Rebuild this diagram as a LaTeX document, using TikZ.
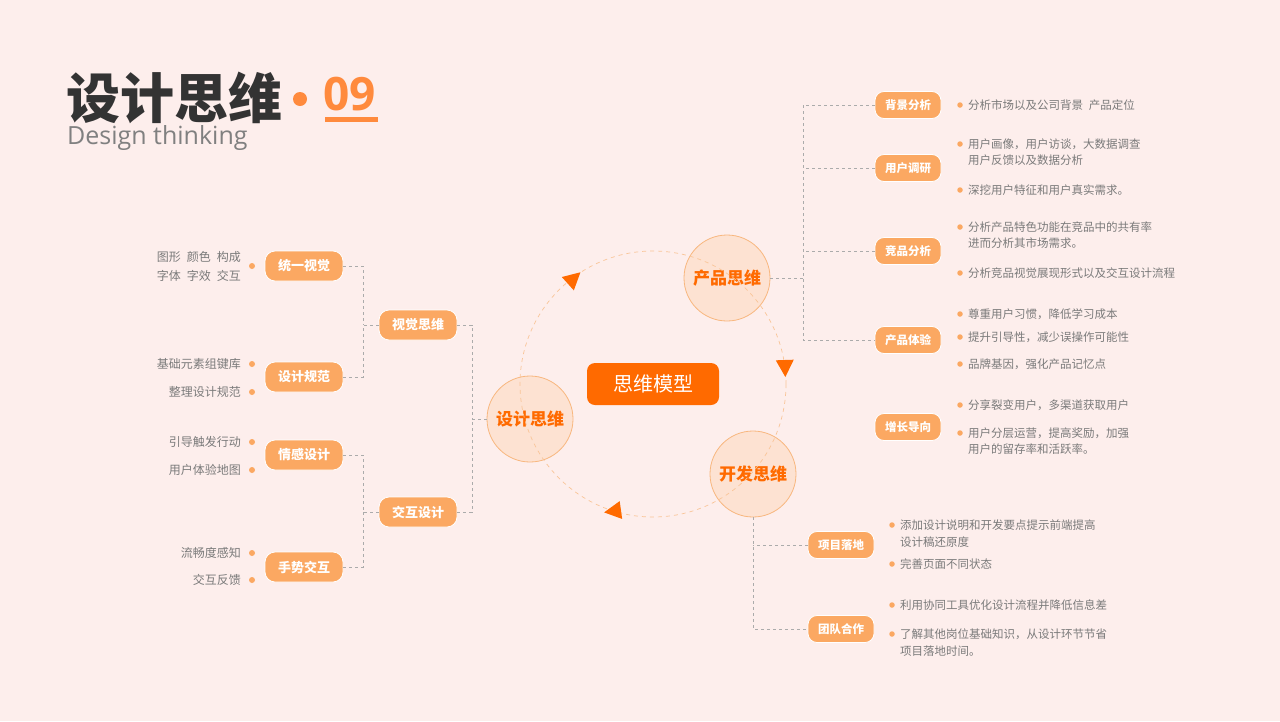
\documentclass[tikz,border=0pt]{standalone}
\usepackage{fontspec}
\setmainfont{Noto Sans CJK SC}
\newfontfamily\latfont{Open Sans}
\definecolor{bg}{HTML}{FDEEEC}
\definecolor{org}{HTML}{FF6A00}
\definecolor{boxo}{HTML}{FBA862}
\definecolor{circf}{HTML}{FDE2D2}
\definecolor{circd}{HTML}{F8B77F}
\definecolor{txt}{HTML}{7A7A7A}
\definecolor{dsh}{HTML}{ABABAB}
\definecolor{tnum}{HTML}{FF8A3D}
\begin{document}
\begin{tikzpicture}[x=1pt,y=-1pt,
  tbox/.style={draw=white,line width=0.8pt,fill=boxo,rounded corners=10pt,minimum width=#1,minimum height=30pt,inner sep=0pt,text=white,font=\fontsize{13}{13}\selectfont\bfseries},
  tbox/.default=78pt,
  sbox/.style={tbox=66pt,minimum height=27pt,rounded corners=9pt,font=\fontsize{11.5}{12}\selectfont\bfseries},
  bub/.style={circle,draw=circd,fill=circf,line width=0.8pt,minimum size=#1,inner sep=0pt,text=org,font=\fontsize{17}{17}\selectfont\bfseries},
  con/.style={draw=dsh,dashed,line width=0.8pt,dash pattern=on 3pt off 3pt},
  lt/.style={text=txt,font=\fontsize{12}{15}\selectfont,inner sep=0pt},
  dot/.style={circle,fill=boxo,inner sep=0pt,minimum size=6pt}]
\fill[bg] (0,0) rectangle (1280,721);
\useasboundingbox (0,0) rectangle (1280,721);
% title
\node[anchor=west,inner sep=0pt,text=black!80,font=\fontsize{54}{54}\selectfont\bfseries] (title) at (66,98) {设计思维};
\fill[tnum] (300,99) circle (7);
\node[anchor=west,inner sep=0pt,text=tnum,font=\latfont\fontsize{46}{46}\selectfont\bfseries] (num) at (323,94) {09};
\fill[tnum] (325,116.5) rectangle (378,121.5);
\node[anchor=west,inner sep=0pt,text=black!50,font=\latfont\fontsize{25}{25}\selectfont] (sub) at (67,138) {Design thinking};
% cycle
\node[bub=86pt] (cp) at (727,278) {产品思维};
\node[bub=86pt] (cd) at (530,419) {设计思维};
\node[bub=86pt] (ck) at (753,474) {开发思维};
\draw[circd!80,dashed,dash pattern=on 4pt off 4pt,line width=0.7pt] (653,384) circle (133);
\node[fill=org,rounded corners=8pt,minimum width=132pt,minimum height=42pt,text=white,font=\fontsize{20}{20}\selectfont] (model) at (653,384) {思维模型};
\foreach \px/\py/\a in {573/279/42,785/367/-88,614/511/188}{
  \begin{scope}[shift={(\px,\py)},rotate=\a]
  \fill[org] (10,0) -- (-7,9) -- (-7,-9) -- cycle;
  \end{scope}}
% left tree
\node[tbox] (vs) at (418,325) {视觉思维};
\node[tbox] (jh) at (418,512) {交互设计};
\node[tbox] (ty) at (304,266) {统一视觉};
\node[tbox] (gf) at (304,377) {设计规范};
\node[tbox] (qg) at (304,455) {情感设计};
\node[tbox] (ss) at (304,567) {手势交互};
\coordinate (l1) at (472,419);
\draw[con] (cd.west) -- (l1) (vs.east) -| (l1) (jh.east) -| (l1);
\draw[con] (vs.west) -- (363,325) (ty.east) -| (363,325) (gf.east) -| (363,325);
\draw[con] (jh.west) -- (363,512) (qg.east) -| (363,512) (ss.east) -| (363,512);
\foreach \y in {266,364,392,442,470,553,580}{\node[dot] at (252,\y) {};}
\node[lt,anchor=east] at (241,257) {图形\enspace 颜色\enspace 构成};
\node[lt,anchor=east] at (241,276) {字体\enspace 字效\enspace 交互};
\node[lt,anchor=east] at (241,364) {基础元素组键库};
\node[lt,anchor=east] at (241,392) {整理设计规范};
\node[lt,anchor=east] at (241,442) {引导触发行动};
\node[lt,anchor=east] at (241,470) {用户体验地图};
\node[lt,anchor=east] at (241,553) {流畅度感知};
\node[lt,anchor=east] at (241,580) {交互反馈};
% right tree
\node[sbox] (bj) at (908,105) {背景分析};
\node[sbox] (yh) at (908,168) {用户调研};
\node[sbox] (jp) at (908,251) {竞品分析};
\node[sbox] (ty2) at (908,340) {产品体验};
\node[sbox] (zz) at (908,427) {增长导向};
\draw[con] (cp.east) -- (803,278);
\draw[con] (bj.west) -| (803,340) -- (ty2.west);
\draw[con] (yh.west) -- (803,168) (jp.west) -- (803,251);
\foreach \y in {105,144,190,227,273,314,337,364,405,433}{\node[dot,minimum size=5.5pt] at (960,\y) {};}
\begin{scope}[every node/.style={lt,anchor=west,font=\fontsize{11.5}{15}\selectfont}]
\node at (968,105) {分析市场以及公司背景\enspace 产品定位};
\node at (968,144) {用户画像，用户访谈，大数据调查};
\node at (968,160) {用户反馈以及数据分析};
\node at (968,190) {深挖用户特征和用户真实需求。};
\node at (968,227) {分析产品特色功能在竞品中的共有率};
\node at (968,243) {进而分析其市场需求。};
\node at (968,273) {分析竞品视觉展现形式以及交互设计流程};
\node at (968,314) {尊重用户习惯，降低学习成本};
\node at (968,337) {提升引导性，减少误操作可能性};
\node at (968,364) {品牌基因，强化产品记忆点};
\node at (968,405) {分享裂变用户，多渠道获取用户};
\node at (968,433) {用户分层运营，提高奖励，加强};
\node at (968,449) {用户的留存率和活跃率。};
\end{scope}
% bottom tree
\node[sbox] (xm) at (841,545) {项目落地};
\node[sbox] (td) at (841,629) {团队合作};
\draw[con] (ck.south) -- (753,629) -- (td.west) (xm.west) -- (753,545);
\foreach \y in {525,564,605,634}{\node[dot,minimum size=5.5pt] at (892,\y) {};}
\begin{scope}[every node/.style={lt,anchor=west,font=\fontsize{11.5}{15}\selectfont}]
\node at (900,525) {添加设计说明和开发要点提示前端提高};
\node at (900,542) {设计稿还原度};
\node at (900,564) {完善页面不同状态};
\node at (900,605) {利用协同工具优化设计流程并降低信息差};
\node at (900,634) {了解其他岗位基础知识，从设计环节节省};
\node at (900,651) {项目落地时间。};
\end{scope}
\end{tikzpicture}
\end{document}
